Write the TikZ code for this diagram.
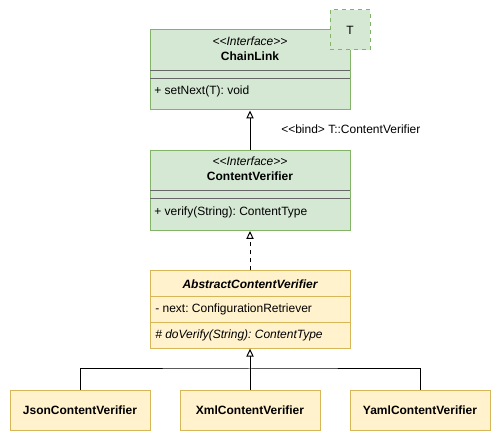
\documentclass[tikz,border=0pt]{standalone}
\usepackage{fontspec}
\setmainfont{Liberation Sans}
\usetikzlibrary{arrows.meta}
\frenchspacing
\definecolor{gfill}{HTML}{D5E8D4}
\definecolor{gline}{HTML}{82B366}
\definecolor{yfill}{HTML}{FFF2CC}
\definecolor{yline}{HTML}{D6B656}
\definecolor{divg}{HTML}{666666}
\tikzset{
  gbox/.style={draw=gline, fill=gfill, line width=0.75pt, inner sep=0pt},
  ybox/.style={draw=yline, fill=yfill, line width=0.75pt, inner sep=0pt},
  txt/.style={inner sep=0pt, font=\fontsize{9pt}{10.8pt}\selectfont},
  conn/.style={line width=0.75pt, -{Triangle[open, width=5.5pt, length=6pt]}},
  plain/.style={line width=0.75pt},
}
\begin{document}
\begin{tikzpicture}[x=0.75pt, y=-0.75pt]
\useasboundingbox (0,0) rectangle (501,441);
% ChainLink
\node[gbox, minimum width=150pt, minimum height=60pt] (cl) at (250,70) {};
\draw[divg, line width=0.75pt] (150,70.5) -- (350,70.5);
\draw[divg, line width=0.75pt] (150,78.5) -- (350,78.5);
\node[txt, font=\fontsize{9pt}{10.8pt}\selectfont\itshape] (clst) at (250,41) {<{}<Interface>{}>};
\node[txt, font=\fontsize{9pt}{10.8pt}\selectfont\bfseries] (clname) at (250,56) {ChainLink};
\node[txt, anchor=west] (clm) at (154,91) {+ setNext(T): void};
% T parameter
\node[draw=gline, fill=gfill, dashed, line width=0.75pt, minimum width=30pt, minimum height=30pt, inner sep=0pt, font=\fontsize{9pt}{10.8pt}\selectfont] (tp) at (350,30) {T};
% ContentVerifier
\node[gbox, minimum width=150pt, minimum height=60pt] (cv) at (250,190.5) {};
\draw[divg, line width=0.75pt] (150,190.5) -- (350,190.5);
\draw[divg, line width=0.75pt] (150,198.5) -- (350,198.5);
\node[txt, font=\fontsize{9pt}{10.8pt}\selectfont\itshape] (cvst) at (250,161) {<{}<Interface>{}>};
\node[txt, font=\fontsize{9pt}{10.8pt}\selectfont\bfseries] (cvname) at (250,176) {ContentVerifier};
\node[txt, anchor=west] (cvm) at (154,212) {+ verify(String): ContentType};
% AbstractContentVerifier
\node[ybox, minimum width=150pt, minimum height=58pt] (acv) at (250,309.5) {};
\draw[yline, line width=0.75pt] (150,296.5) -- (350,296.5);
\draw[yline, line width=0.75pt] (150,322.5) -- (350,322.5);
\node[txt, font=\fontsize{9pt}{10.8pt}\selectfont\bfseries\itshape] (acvname) at (250,284) {AbstractContentVerifier};
\node[txt, anchor=west] (acvf) at (155,309.5) {- next: ConfigurationRetriever};
\node[txt, anchor=west, font=\fontsize{9pt}{10.8pt}\selectfont\itshape] (acvm) at (155,335.5) {\# doVerify(String): ContentType};
% Concrete classes
\node[ybox, minimum width=105pt, minimum height=30pt, font=\fontsize{9pt}{10.8pt}\selectfont\bfseries] (json) at (80,410.5) {JsonContentVerifier};
\node[ybox, minimum width=105pt, minimum height=30pt, font=\fontsize{9pt}{10.8pt}\selectfont\bfseries] (xml) at (250,410.5) {XmlContentVerifier};
\node[ybox, minimum width=105pt, minimum height=30pt, font=\fontsize{9pt}{10.8pt}\selectfont\bfseries] (yaml) at (420,410.5) {YamlContentVerifier};
% connectors
\draw[conn] (cv.north) -- (cl.south);
\node[txt, anchor=west] (bind) at (281,129) {<{}<bind> T::ContentVerifier};
\draw[conn, dashed, dash pattern=on 3pt off 3pt] (acv.north) -- (cv.south);
\draw[conn] (xml.north) -- (acv.south);
\draw[plain] (json.north) |- (250,369) -| (yaml.north);
\end{tikzpicture}
\end{document}
